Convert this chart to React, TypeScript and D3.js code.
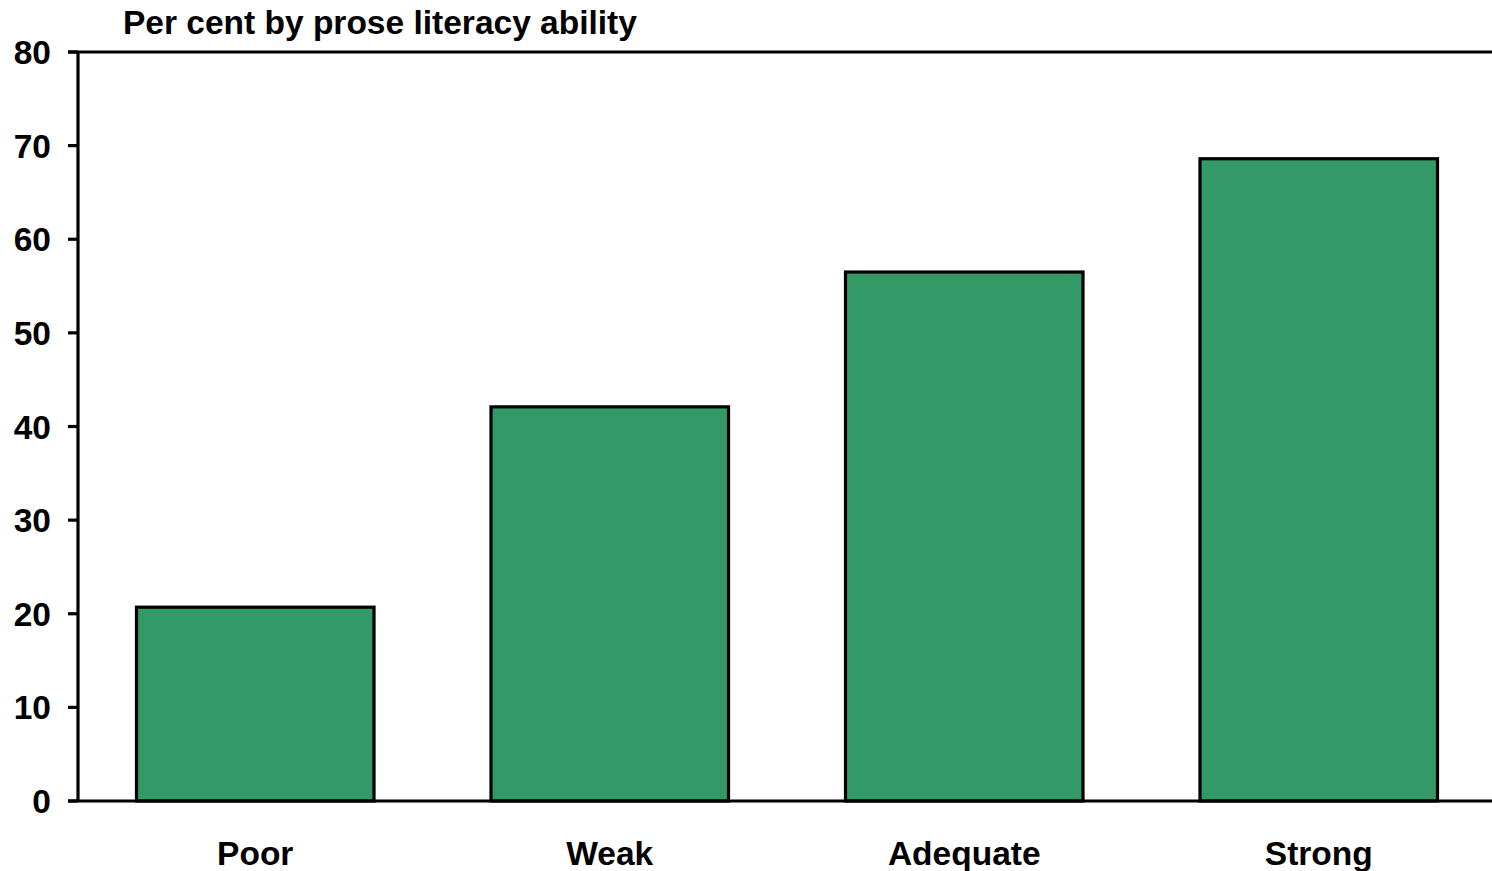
import React from "react";
import * as d3 from "d3";

const categories = ["Poor", "Weak", "Adequate", "Strong"];
const values = [20.7, 42.1, 56.5, 68.6];
const yTicks = [0, 10, 20, 30, 40, 50, 60, 70, 80];
const title = "Per cent by prose literacy ability";

const W = 1492;
const H = 871;
const left = 78;
const right = 1496;
const top = 52;
const bottom = 801;
const font = "'Liberation Sans', Arial, Helvetica, sans-serif";

export default function App() {
  const x = d3.scaleBand<string>().domain(categories).range([left, right]).paddingInner(0.33).paddingOuter(0.165);
  const y = d3.scaleLinear().domain([0, 80]).range([bottom, top]);
  return (
    <svg width={W} height={H} style={{ position: "absolute", left: 0, top: 0, background: "#fff" }} fontFamily={font}>
      <text x={123} y={34} fontSize={33.5} fontWeight="bold" fill="#000">{title}</text>
      {categories.map((c, i) => (
        <rect key={c} x={x(c)!} y={y(values[i])} width={x.bandwidth()} height={y(0) - y(values[i])}
          fill="#339966" stroke="#000" strokeWidth={3.2} />
      ))}
      <line x1={left} x2={left} y1={y(80)} y2={y(0)} stroke="#000" strokeWidth={3.2} />
      <line x1={68} x2={W} y1={y(80)} y2={y(80)} stroke="#000" strokeWidth={3.2} />
      <line x1={68} x2={W} y1={y(0)} y2={y(0)} stroke="#000" strokeWidth={3.2} />
      {yTicks.map(t => (
        <g key={t}>
          <line x1={68} x2={left} y1={y(t)} y2={y(t)} stroke="#000" strokeWidth={3.2} />
          <text x={51} y={y(t)} dy="0.36em" textAnchor="end" fontSize={33.5} fontWeight="bold">{t}</text>
        </g>
      ))}
      {categories.map(c => (
        <text key={c} x={x(c)! + x.bandwidth() / 2} y={865} textAnchor="middle" fontSize={33.5} fontWeight="bold">{c}</text>
      ))}
    </svg>
  );
}
